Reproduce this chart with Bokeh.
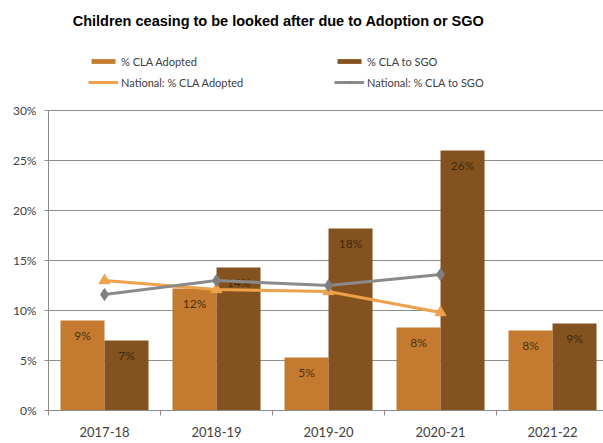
from bokeh.plotting import figure
from bokeh.models import Range1d, FixedTicker, Legend, LegendItem, Label, ColumnDataSource
from bokeh.embed import file_html
from bokeh.resources import INLINE
from bokeh.core.properties import value

# ---- data (percent) ----
years = ["2017-18", "2018-19", "2019-20", "2020-21", "2021-22"]
cla_adopted = [9.0, 12.2, 5.3, 8.3, 8.0]
cla_sgo = [7.0, 14.3, 18.2, 26.0, 8.7]
adopted_labels = ["9%", "12%", "5%", "8%", "8%"]
sgo_labels = ["7%", "14%", "18%", "26%", "9%"]
nat_years = ["2017-18", "2018-19", "2019-20", "2020-21"]
nat_adopted = [13.0, 12.1, 11.9, 9.8]
nat_sgo = [11.6, 13.0, 12.5, 13.6]
y_ticks = [0, 5, 10, 15, 20, 25, 30]

ADOPT = "#C47A2F"
SGO = "#83521E"
NAT_ADOPT = "#EFA04A"
NAT_SGO = "#8A8A8A"
GRID = "#8C8C8C"
TXT = "#404040"

pos = {y: i + 0.5 for i, y in enumerate(years)}
bw = 0.393
half = bw / 2

src = ColumnDataSource(dict(
    xa=[pos[y] - half for y in years],
    xs=[pos[y] + half for y in years],
    a=cla_adopted, s=cla_sgo,
    la=adopted_labels, ls=sgo_labels,
))
nsrc = ColumnDataSource(dict(
    x=[pos[y] for y in nat_years], na=nat_adopted, ns=nat_sgo,
))

# frame spans the full height; the axis itself is bounded to 0-30 %
p = figure(width=603, height=443, output_backend="svg", toolbar_location=None,
           title=None,
           x_range=Range1d(0, 4.955), y_range=Range1d(0, 41.0),
           min_border_left=48, min_border_right=0, min_border_top=0,
           min_border_bottom=33)
p.outline_line_color = None
p.background_fill_color = "white"

rb_a = p.vbar(x="xa", top="a", width=bw, source=src, fill_color=ADOPT, line_color=None)
rb_s = p.vbar(x="xs", top="s", width=bw, source=src, fill_color=SGO, line_color=None)

lab_kw = dict(text_font=value("Lato"), text_font_size="12px", text_color="#2e1f0a",
              text_alpha=0.85, text_align="center", text_baseline="middle", y_offset=15)
p.text(x="xa", y="a", text="la", source=src, **lab_kw)
p.text(x="xs", y="s", text="ls", source=src, **lab_kw)

rl_a = p.line(x="x", y="na", source=nsrc, line_color=NAT_ADOPT, line_width=3)
rm_a = p.scatter(x="x", y="na", source=nsrc, marker="triangle", size=11,
                 fill_color=NAT_ADOPT, line_color=NAT_ADOPT)
rl_s = p.line(x="x", y="ns", source=nsrc, line_color=NAT_SGO, line_width=3)
rm_s = p.scatter(x="x", y="ns", source=nsrc, marker="diamond", size=12,
                 fill_color="#7F7F7F", line_color="#7F7F7F")

# axes
p.xgrid.visible = False
p.ygrid.ticker = FixedTicker(ticks=y_ticks)
p.ygrid.grid_line_color = GRID

xa = p.xaxis[0]
xa.ticker = FixedTicker(ticks=[pos[y] for y in years],
                        minor_ticks=[i for i in range(len(years) + 1)])
xa.major_label_overrides = {pos[y]: y for y in years}
xa.axis_line_color = GRID
xa.major_tick_out = 0
xa.major_tick_in = 0
xa.minor_tick_out = 5
xa.minor_tick_in = 0
xa.minor_tick_line_color = GRID
xa.major_label_text_font = "Lato"
xa.major_label_text_font_size = "13px"
xa.major_label_text_color = TXT
xa.major_label_standoff = 11

ya = p.yaxis[0]
ya.bounds = (0, 30)
ya.ticker = FixedTicker(ticks=y_ticks)
ya.major_label_overrides = {t: f"{t}%" for t in y_ticks}
ya.axis_line_color = GRID
ya.major_tick_out = 4
ya.major_tick_in = 0
ya.major_tick_line_color = GRID
ya.minor_tick_line_color = None
ya.major_label_text_font = "Lato"
ya.major_label_text_font_size = "12px"
ya.major_label_text_color = TXT
ya.major_label_standoff = 8

legend = Legend(items=[
    LegendItem(label="% CLA Adopted", renderers=[rb_a]),
    LegendItem(label="National: % CLA Adopted", renderers=[rl_a, rm_a]),
    LegendItem(label="% CLA to SGO", renderers=[rb_s]),
    LegendItem(label="National: % CLA to SGO", renderers=[rl_s, rm_s]),
], ncols=2, location=(40, 320), padding=0, margin=0, spacing=5,
    glyph_width=30, glyph_height=6, label_height=16, label_width=208,
    label_standoff=3, border_line_color=None, background_fill_alpha=0,
    label_text_font="Lato", label_text_font_size="11px", label_text_color=TXT)
p.add_layout(legend, "center")

title = Label(x=230, y=390, x_units="screen", y_units="screen",
              text="Children ceasing to be looked after due to Adoption or SGO",
              text_align="center", text_baseline="middle",
              text_font="Liberation Sans", text_font_style="bold",
              text_font_size="14.5px", text_color="#000000")
p.add_layout(title)

open("out.html", "w").write(file_html(p, INLINE))
